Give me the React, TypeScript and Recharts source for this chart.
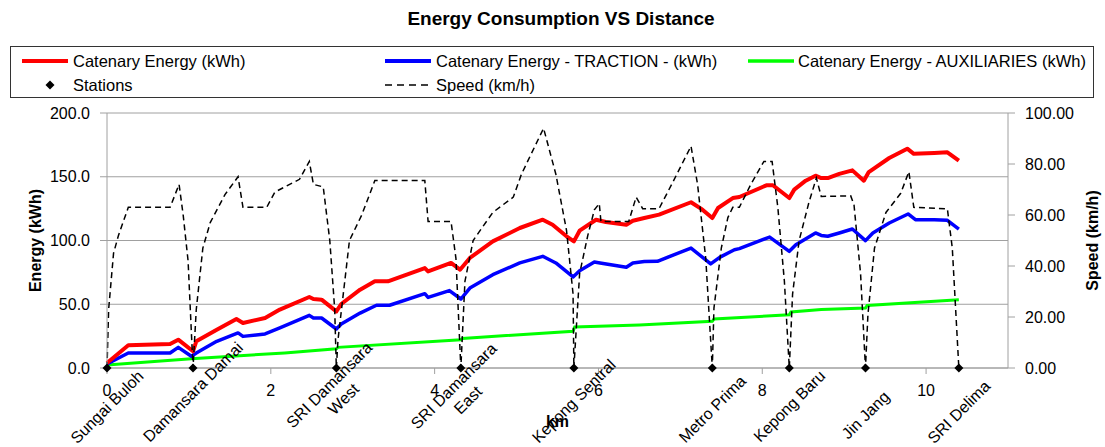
import React from "react";
import { CartesianGrid, ComposedChart, Line, Scatter, XAxis, YAxis } from "recharts";

// distance (km) / value pairs
const catenaryEnergy: [number, number][] = [
  [0, 3.9], [0.26, 17.8], [0.77, 18.8], [0.87, 22.2], [1.05, 13.1], [1.09, 20.9], [1.34, 30], [1.58, 38.4],
  [1.66, 35.3], [1.93, 39.2], [2.11, 45.8], [2.47, 55.7], [2.52, 54.1], [2.62, 53.6], [2.8, 44.4], [2.86, 50.2],
  [3.09, 61.4], [3.27, 68], [3.43, 68], [3.88, 78.4], [3.92, 75.8], [4.2, 82.4], [4.31, 77.1], [4.43, 86.3],
  [4.71, 99.3], [5.04, 109.8], [5.32, 116.3], [5.44, 112.4], [5.61, 103.3], [5.7, 99.3], [5.77, 107.7],
  [5.97, 116.3], [6.09, 114.5], [6.34, 112.4], [6.42, 115.5], [6.56, 117.6], [6.74, 120.3], [7.13, 130],
  [7.27, 124.2], [7.39, 117.6], [7.46, 125.5], [7.64, 133.3], [7.72, 134.1], [8.05, 143.3], [8.13, 143.3],
  [8.33, 133.3], [8.39, 139.9], [8.53, 146.9], [8.65, 150.8], [8.72, 149], [8.8, 149], [8.94, 152.2],
  [9.1, 155], [9.24, 146.9], [9.3, 153.7], [9.55, 164.7], [9.77, 172], [9.85, 168], [10.1, 168.6],
  [10.26, 169.2], [10.4, 162.6],
];

const tractionEnergy: [number, number][] = [
  [0, 3.1], [0.26, 11.8], [0.77, 11.8], [0.87, 16.2], [1.03, 9.2], [1.09, 11.8], [1.34, 20.9], [1.6, 27.5],
  [1.66, 24.8], [1.93, 26.7], [2.11, 31.4], [2.47, 41.3], [2.52, 39.2], [2.62, 39.2], [2.8, 30.6], [2.86, 34.5],
  [3.09, 43.1], [3.29, 49.2], [3.45, 49.2], [3.88, 58.3], [3.92, 55.4], [4.18, 60.7], [4.32, 54.1], [4.43, 62.7],
  [4.71, 73.2], [5.04, 82.4], [5.32, 87.6], [5.48, 82.4], [5.69, 71.4], [5.77, 76.3], [5.95, 83.1], [6.02, 82.4],
  [6.34, 79], [6.42, 82.4], [6.56, 83.5], [6.72, 83.7], [7.13, 94.1], [7.37, 81.6], [7.48, 86.8], [7.66, 92.8],
  [7.72, 93.6], [8.09, 102.7], [8.33, 91.5], [8.41, 96.7], [8.65, 105.9], [8.72, 104], [8.8, 103.3],
  [8.94, 105.9], [9.1, 109], [9.26, 99.9], [9.35, 105.9], [9.55, 113.7], [9.78, 120.8], [9.87, 116.3],
  [10.1, 116.3], [10.26, 115.8], [10.4, 109],
];

const auxiliariesEnergy: [number, number][] = [
  [0, 2.4], [1.03, 7.3], [2.17, 11.8], [2.8, 15.1], [2.82, 16.2], [4.32, 22.2], [4.34, 23.2], [5.69, 28.8],
  [5.71, 32.2], [6.5, 33.7], [7.39, 36.6], [7.41, 38.4], [8.33, 41.8], [8.35, 43.9], [8.72, 45.8], [9.26, 47],
  [9.28, 49], [10.4, 53.6],
];

const speed: [number, number][] = [
  [0, 0], [0.02, 23], [0.08, 45], [0.14, 52], [0.26, 63], [0.77, 63], [0.88, 72], [0.93, 60], [0.99, 42], [1.05, 0],
  [1.09, 23], [1.17, 47], [1.26, 57], [1.44, 68], [1.6, 75], [1.66, 63], [1.95, 63], [2.05, 69], [2.35, 74],
  [2.47, 81], [2.52, 72], [2.64, 71], [2.72, 50], [2.78, 23], [2.8, 0],
  [2.82, 11], [2.96, 50], [3.11, 60], [3.27, 73.5], [3.88, 73.5], [3.92, 57.5], [4.2, 57.5], [4.26, 43], [4.32, 0],
  [4.37, 34], [4.47, 50], [4.71, 61], [4.96, 67], [5.06, 76], [5.33, 94], [5.48, 76], [5.61, 54], [5.69, 29], [5.7, 0],
  [5.77, 37], [5.87, 52], [5.95, 62], [6.01, 64.5], [6.03, 57.5], [6.37, 57.5], [6.46, 67], [6.54, 62.5],
  [6.74, 62.5], [6.91, 73], [7.13, 87], [7.21, 72], [7.31, 43], [7.39, 0],
  [7.41, 23.5], [7.5, 47], [7.58, 59], [7.64, 63], [7.72, 63], [7.86, 72], [8.02, 81], [8.12, 81], [8.19, 63],
  [8.27, 34], [8.33, 0],
  [8.37, 29], [8.45, 50], [8.57, 65], [8.66, 74.5], [8.72, 67.3], [9.08, 67.5], [9.12, 64], [9.2, 37], [9.26, 0],
  [9.29, 21], [9.37, 47], [9.51, 61], [9.69, 68.5], [9.79, 77], [9.85, 63], [10.26, 62.4], [10.32, 47], [10.4, 0],
];

const stationNames = [
  "Sungai Buloh", "Damansara Damai", "SRI Damansara\nWest", "SRI Damansara\nEast", "Kepong Sentral",
  "Metro Prima", "Kepong Baru", "Jin Jang", "SRI Delima",
];
const stationKm = [0, 1.05, 2.8, 4.32, 5.7, 7.39, 8.33, 9.26, 10.4];

const kmTicks = [0, 2, 4, 6, 8, 10];
const energyTicks = [0, 50, 100, 150, 200];
const speedTicks = [0, 20, 40, 60, 80, 100];

// how far below the axis each station label sits (px), as placed in the original
const labelDrop = [39, 24, 24, 25, 33, 41, 38, 47, 44];

const FONT = "'Liberation Sans', Arial, sans-serif";
const AXIS = "#a0a0a0";

const pts = (arr: [number, number][]) => arr.map(([km, v]) => ({ km, v }));
const stations = stationNames.map((name, i) => ({ km: stationKm[i], v: 0, name, i }));

const StationMark = (props: any) => {
  const { cx, cy, payload } = props;
  if (cx == null || cy == null) return null;
  const lx = cx;
  const ly = cy + labelDrop[payload.i];
  const lines = String(payload.name).split("\n");
  const lh = 20;
  return (
    <g>
      <polygon points={`${cx},${cy - 4.5} ${cx + 4.5},${cy} ${cx},${cy + 4.5} ${cx - 4.5},${cy}`} fill="#000" />
      <text
        transform={`rotate(-45 ${lx} ${ly})`}
        textAnchor="middle"
        fontSize={16}
        fontFamily={FONT}
        fill="#000"
      >
        {lines.map((t, k) => (
          <tspan key={k} x={lx} y={ly + (k - (lines.length - 1) / 2) * lh} dominantBaseline="central">
            {t}
          </tspan>
        ))}
      </text>
    </g>
  );
};

const LegendIcon = ({ kind, color, w }: { kind: string; color?: string; w?: number }) => (
  <svg width={48} height={12} style={{ position: "absolute", left: 0, top: -6 }}>
    {kind === "line" && <line x1={0} y1={6} x2={46} y2={6} stroke={color} strokeWidth={w} />}
    {kind === "dash" && <line x1={0} y1={6} x2={46} y2={6} stroke="#000" strokeWidth={1.5} strokeDasharray="7 5" />}
    {kind === "diamond" && <polygon points="28,1.5 32.5,6 28,10.5 23.5,6" fill="#000" />}
  </svg>
);

const legendItems = [
  { label: "Catenary Energy (kWh)", kind: "line", color: "#ff0000", w: 4, col: 0, row: 0 },
  { label: "Catenary Energy - TRACTION - (kWh)", kind: "line", color: "#0000ff", w: 4, col: 1, row: 0 },
  { label: "Catenary Energy - AUXILIARIES (kWh)", kind: "line", color: "#00ff00", w: 3.5, col: 2, row: 0 },
  { label: "Stations", kind: "diamond", col: 0, row: 1 },
  { label: "Speed (km/h)", kind: "dash", col: 1, row: 1 },
];
const colIcon = [22, 385, 748];
const colText = [73, 436, 798];
const rowY = [14, 38];

export default function App() {
  return (
    <div style={{ position: "absolute", left: 0, top: 0, width: 1105, height: 447, background: "#fff", fontFamily: FONT }}>
      <div
        style={{
          position: "absolute", left: 561, top: 9, transform: "translateX(-50%)", whiteSpace: "nowrap",
          fontSize: 19, fontWeight: "bold", lineHeight: "20px", color: "#000",
        }}
      >
        Energy Consumption VS Distance
      </div>

      <div
        style={{
          position: "absolute", left: 10, top: 46, width: 1084, height: 52, border: "1px solid #333",
          boxSizing: "border-box",
        }}
      >
        {legendItems.map((it) => (
          <React.Fragment key={it.label}>
            <div style={{ position: "absolute", left: colIcon[it.col] - 11, top: rowY[it.row] }}>
              <LegendIcon kind={it.kind} color={it.color} w={it.w} />
            </div>
            <span
              style={{
                position: "absolute", left: colText[it.col] - 11, top: rowY[it.row] - 10, lineHeight: "20px",
                fontSize: 16.5, whiteSpace: "nowrap", color: "#000",
              }}
            >
              {it.label}
            </span>
          </React.Fragment>
        ))}
      </div>

      <div style={{ position: "absolute", left: 0, top: 0 }}>
        <ComposedChart width={1105} height={447} margin={{ top: 113, right: 7, left: 30, bottom: 9 }}>
          <CartesianGrid yAxisId="left" vertical={false} stroke={AXIS} strokeWidth={1} />
          <XAxis
            dataKey="km" type="number" domain={[0, 11]} ticks={kmTicks} interval={0} height={70}
            axisLine={{ stroke: AXIS }} tickLine={{ stroke: AXIS }} tickSize={6} tickMargin={11}
            tick={{ fontSize: 16, fill: "#000", fontFamily: FONT }}
            label={{ value: "km", position: "insideBottom", offset: 11, style: { fontSize: 16, fontWeight: "bold", fill: "#000", fontFamily: FONT } }}
          />
          <YAxis
            yAxisId="left" type="number" domain={[0, 200]} ticks={energyTicks} interval={0} width={77}
            axisLine={{ stroke: AXIS }} tickLine={{ stroke: AXIS }} tickSize={7} tickMargin={10}
            tickFormatter={(v: number) => v.toFixed(1)}
            tick={{ fontSize: 16, fill: "#000", fontFamily: FONT }}
            label={{ value: "Energy (kWh)", angle: -90, position: "insideLeft", offset: 5, style: { textAnchor: "middle", fontSize: 16, fontWeight: "bold", fill: "#000", fontFamily: FONT } }}
          />
          <YAxis
            yAxisId="right" orientation="right" type="number" domain={[0, 100]} ticks={speedTicks} interval={0} width={90}
            axisLine={{ stroke: AXIS }} tickLine={{ stroke: AXIS }} tickSize={7} tickMargin={10}
            tickFormatter={(v: number) => v.toFixed(2)}
            tick={{ fontSize: 16, fill: "#000", fontFamily: FONT }}
            label={{ value: "Speed (km/h)", angle: -90, position: "insideRight", offset: 6, style: { textAnchor: "middle", fontSize: 16, fontWeight: "bold", fill: "#000", fontFamily: FONT } }}
          />
          <Line yAxisId="left" data={pts(auxiliariesEnergy)} dataKey="v" type="linear" stroke="#00ff00" strokeWidth={3} dot={false} isAnimationActive={false} />
          <Line yAxisId="left" data={pts(tractionEnergy)} dataKey="v" type="linear" stroke="#0000ff" strokeWidth={3.5} dot={false} isAnimationActive={false} strokeLinejoin="round" />
          <Line yAxisId="left" data={pts(catenaryEnergy)} dataKey="v" type="linear" stroke="#ff0000" strokeWidth={4} dot={false} isAnimationActive={false} strokeLinejoin="round" />
          <Line yAxisId="right" data={pts(speed)} dataKey="v" type="linear" stroke="#000" strokeWidth={1.5} strokeDasharray="6 4" dot={false} isAnimationActive={false} />
          <Scatter yAxisId="left" data={stations} dataKey="v" shape={StationMark} isAnimationActive={false} />
        </ComposedChart>
      </div>
    </div>
  );
}
